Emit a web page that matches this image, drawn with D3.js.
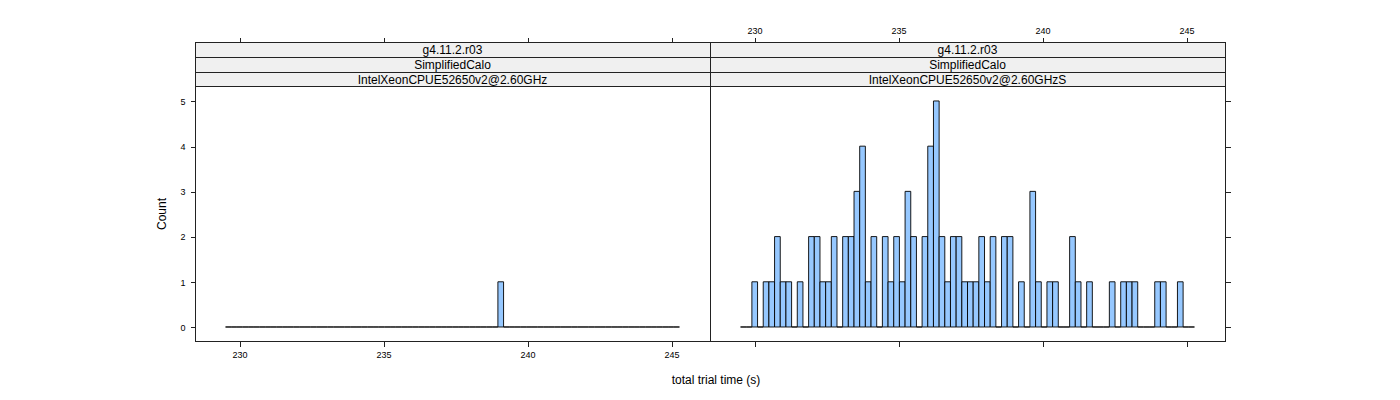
<!DOCTYPE html>
<html><head><meta charset="utf-8">
<script src="https://cdn.jsdelivr.net/npm/d3@7"></script>
<style>
html,body{margin:0;padding:0;background:#fff;}
text{font-family:"Liberation Sans",Arial,Helvetica,sans-serif;fill:#000;}
</style></head>
<body><svg id="chart" width="1400" height="400"></svg>
<script>
// ---- data ----
const stripLevel1 = ["g4.11.2.r03", "g4.11.2.r03"];
const stripLevel2 = ["SimplifiedCalo", "SimplifiedCalo"];
const stripLevel3 = ["IntelXeonCPUE52650v2@2.60GHz", "IntelXeonCPUE52650v2@2.60GHzS"];
const binStart = 229.53;
const binWidth = 0.197;
// counts per bin (80 bins), left panel
const countsLeft = [
 0,0,0,0,0,0,0,0,0,0, 0,0,0,0,0,0,0,0,0,0,
 0,0,0,0,0,0,0,0,0,0, 0,0,0,0,0,0,0,0,0,0,
 0,0,0,0,0,0,0,0,1,0, 0,0,0,0,0,0,0,0,0,0,
 0,0,0,0,0,0,0,0,0,0, 0,0,0,0,0,0,0,0,0,0];
// counts per bin (80 bins), right panel
const countsRight = [
 0,0,
 1,0,1,1,2,1,1,0,1,0,
 2,2,1,1,2,0,2,2,3,4,
 1,2,0,2,1,2,1,3,2,0,
 2,4,5,2,1,2,2,1,1,1,
 2,1,2,0,2,2,0,1,0,3,
 1,0,1,1,0,0,2,1,0,1,
 0,0,0,1,0,1,1,1,0,0,
 0,1,1,0,0,1,0,0];
const xTicks = [230, 235, 240, 245];
const yTicks = [0, 1, 2, 3, 4, 5];
const xTitle = "total trial time (s)";
const yTitle = "Count";

// ---- layout ----
const svg = d3.select("#chart");
const panelTop = 42, stripH = 14.8, plotTop = 86.5, plotBottom = 341;
const panels = [
  {x0: 195, x1: 710, counts: countsLeft, strips: [stripLevel1[0], stripLevel2[0], stripLevel3[0]]},
  {x0: 710, x1: 1225, counts: countsRight, strips: [stripLevel1[1], stripLevel2[1], stripLevel3[1]]}
];
const xDomain = [228.47, 246.35];
const y = d3.scaleLinear().domain([-0.31, 5.32]).range([plotBottom, plotTop]);
const fill = "#96C8FF";
const lineCol = "#222";
const tickFont = "9px";

panels.forEach((p, pi) => {
  const x = d3.scaleLinear().domain(xDomain).range([p.x0, p.x1]);
  const g = svg.append("g");
  // bars
  const bins = p.counts.map((c, i) => ({a: binStart + i * binWidth, b: binStart + (i + 1) * binWidth, c}));
  g.selectAll("path.bar").data(bins).join("path")
    .attr("class", "bar")
    .attr("d", d => `M${x(d.a)},${y(0)}V${y(d.c)}H${x(d.b)}V${y(0)}Z`)
    .attr("fill", fill).attr("stroke", "#000").attr("stroke-width", 0.9);
  // strips
  p.strips.forEach((s, si) => {
    const sy = panelTop + si * stripH;
    g.append("rect").attr("x", p.x0 + 0.5).attr("y", sy + 0.5).attr("width", p.x1 - p.x0).attr("height", stripH)
      .attr("fill", "#F0F0F0").attr("stroke", lineCol).attr("stroke-width", 1).attr("shape-rendering", "crispEdges");
    g.append("text").attr("x", (p.x0 + p.x1) / 2).attr("y", sy + stripH / 2 + 4.6)
      .attr("text-anchor", "middle").attr("font-size", "12px").text(s);
  });
  // panel border
  g.append("rect").attr("x", p.x0 + 0.5).attr("y", panelTop + 0.5).attr("width", p.x1 - p.x0).attr("height", plotBottom - panelTop)
    .attr("fill", "none").attr("stroke", lineCol).attr("stroke-width", 1).attr("shape-rendering", "crispEdges");
  const bottomAxis = d3.axisBottom(x).tickValues(xTicks).tickSize(5).tickPadding(5)
    .tickFormat(pi === 0 ? d3.format("d") : () => "");
  const topAxis = d3.axisTop(x).tickValues(xTicks).tickSize(5).tickPadding(4)
    .tickFormat(pi === 1 ? d3.format("d") : () => "");
  [ [bottomAxis, plotBottom + 0.5], [topAxis, panelTop + 0.5] ].forEach(([ax, ty]) => {
    const a = g.append("g").attr("transform", `translate(0.5,${ty})`).call(ax);
    a.select(".domain").remove();
    a.selectAll("line").attr("stroke", lineCol).attr("shape-rendering", "crispEdges");
    a.selectAll("text").attr("font-size", tickFont).attr("font-family", "Liberation Sans, Arial, sans-serif").attr("fill", "#000");
  });
  if (pi === 0) {
    const a = g.append("g").attr("transform", `translate(${p.x0 + 0.5},0.5)`)
      .call(d3.axisLeft(y).tickValues(yTicks).tickSize(5).tickPadding(5).tickFormat(d3.format("d")));
    a.select(".domain").remove();
    a.selectAll("line").attr("stroke", lineCol).attr("shape-rendering", "crispEdges");
    a.selectAll("text").attr("font-size", tickFont).attr("font-family", "Liberation Sans, Arial, sans-serif").attr("fill", "#000");
  } else {
    const a = g.append("g").attr("transform", `translate(${p.x1 + 0.5},0.5)`)
      .call(d3.axisRight(y).tickValues(yTicks).tickSize(5).tickFormat(() => ""));
    a.select(".domain").remove();
    a.selectAll("line").attr("stroke", lineCol).attr("shape-rendering", "crispEdges");
  }
});

// axis titles
svg.append("text").attr("x", 716).attr("y", 384).attr("text-anchor", "middle")
  .attr("font-size", "12px").text(xTitle);
svg.append("text").attr("transform", "translate(166,214) rotate(-90)").attr("text-anchor", "middle")
  .attr("font-size", "12px").text(yTitle);
</script>
</body></html>
